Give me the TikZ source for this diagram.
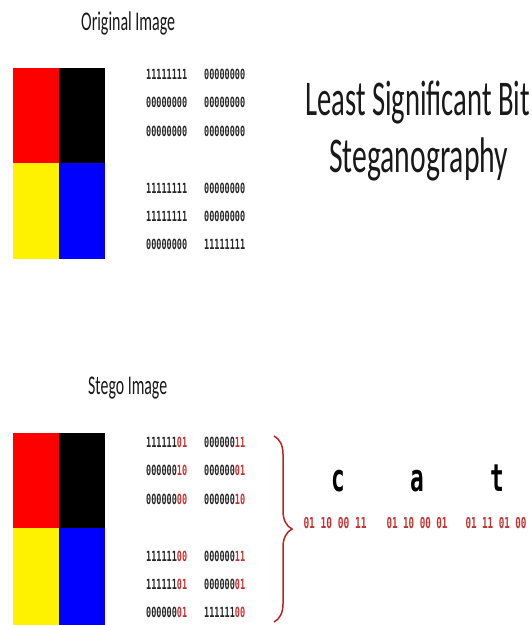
\documentclass[tikz,border=0pt]{standalone}
\usepackage{fontspec}
\setmainfont{Carlito}
\newfontfamily\bitfont{DejaVu Sans Mono}
\usetikzlibrary{decorations.pathreplacing}
\definecolor{bitred}{RGB}{200,48,48}
\definecolor{bracered}{RGB}{185,35,35}
\newcommand{\fitw}[3]{\resizebox{#1pt}{\height}{\fontsize{#2}{#2}\selectfont #3}}
\newcommand{\bw}[1]{\resizebox{41pt}{\height}{\bitfont\bfseries\fontsize{14}{14}\selectfont #1}}
\newcommand{\rb}[1]{\textcolor{bitred}{#1}}
\begin{document}
\begin{tikzpicture}[x=1pt,y=-1pt,
  title/.style={inner sep=0pt, anchor=base west, text=black!90},
  bits/.style={inner sep=0pt, anchor=west, text=black!85},
  letter/.style={inner sep=0pt, anchor=base, text=black},
  code/.style={inner sep=0pt, anchor=center, text=bitred}]
\useasboundingbox (0,0) rectangle (532,625);
% original image squares
\fill[red]    (13,68)  rectangle (59,163);
\fill[black]  (59,68)  rectangle (105,163);
\fill[yellow] (13,163) rectangle (59,259);
\fill[blue]   (59,163) rectangle (105,259);
% stego image squares
\fill[red]    (13,433) rectangle (59,528);
\fill[black]  (59,433) rectangle (105,528);
\fill[yellow] (13,528) rectangle (59,625);
\fill[blue]   (59,528) rectangle (105,625);
% titles
\node[title] (orig) at (81,30) {\fitw{94}{27}{Original Image}};
\node[title] (stego) at (88,394) {\fitw{79}{27}{Stego Image}};
\node[title] (lsb1) at (305,115) {\fitw{225}{50}{Least Significant Bit}};
\node[title] (lsb2) at (329,172) {\fitw{179}{50}{Steganography}};
% original bits
\node[bits] (o11) at (146,74)  {\bw{11111111}};
\node[bits] (o12) at (204,74)  {\bw{00000000}};
\node[bits] (o21) at (146,102.5) {\bw{00000000}};
\node[bits] (o22) at (204,102.5) {\bw{00000000}};
\node[bits] (o31) at (146,131) {\bw{00000000}};
\node[bits] (o32) at (204,131) {\bw{00000000}};
\node[bits] (o41) at (146,188) {\bw{11111111}};
\node[bits] (o42) at (204,188) {\bw{00000000}};
\node[bits] (o51) at (146,216) {\bw{11111111}};
\node[bits] (o52) at (204,216) {\bw{00000000}};
\node[bits] (o61) at (146,244) {\bw{00000000}};
\node[bits] (o62) at (204,244) {\bw{11111111}};
% stego bits
\node[bits] (s11) at (146,442)   {\bw{111111\rb{01}}};
\node[bits] (s12) at (204,442)   {\bw{000000\rb{11}}};
\node[bits] (s21) at (146,470.5) {\bw{000000\rb{10}}};
\node[bits] (s22) at (204,470.5) {\bw{000000\rb{01}}};
\node[bits] (s31) at (146,499)   {\bw{000000\rb{00}}};
\node[bits] (s32) at (204,499)   {\bw{000000\rb{10}}};
\node[bits] (s41) at (146,556)   {\bw{111111\rb{00}}};
\node[bits] (s42) at (204,556)   {\bw{000000\rb{11}}};
\node[bits] (s51) at (146,584)   {\bw{111111\rb{01}}};
\node[bits] (s52) at (204,584)   {\bw{000000\rb{01}}};
\node[bits] (s61) at (146,612)   {\bw{000000\rb{01}}};
\node[bits] (s62) at (204,612)   {\bw{111111\rb{00}}};
% brace
\coordinate (brtop) at (274,436);
\coordinate (brbot) at (274,622);
\draw[bracered, line width=1.5pt, decorate, decoration={brace, amplitude=18pt}] (brtop) -- (brbot);
% message
\node[letter] (lc) at (338.5,491) {\scalebox{0.6}[1]{\bitfont\bfseries\fontsize{38}{38}\selectfont c}};
\node[letter] (la) at (417.5,491) {\scalebox{0.6}[1]{\bitfont\bfseries\fontsize{38}{38}\selectfont a}};
\node[letter] (lt) at (497.5,491) {\scalebox{0.6}[1]{\bitfont\bfseries\fontsize{38}{38}\selectfont t}};
\node[code] (cc) at (335,523) {\resizebox{63pt}{\height}{\bitfont\bfseries\fontsize{15}{15}\selectfont 01 10 00 11}};
\node[code] (ca) at (417,523) {\resizebox{61pt}{\height}{\bitfont\bfseries\fontsize{15}{15}\selectfont 01 10 00 01}};
\node[code] (ct) at (496,523) {\resizebox{61pt}{\height}{\bitfont\bfseries\fontsize{15}{15}\selectfont 01 11 01 00}};
\end{tikzpicture}
\end{document}
